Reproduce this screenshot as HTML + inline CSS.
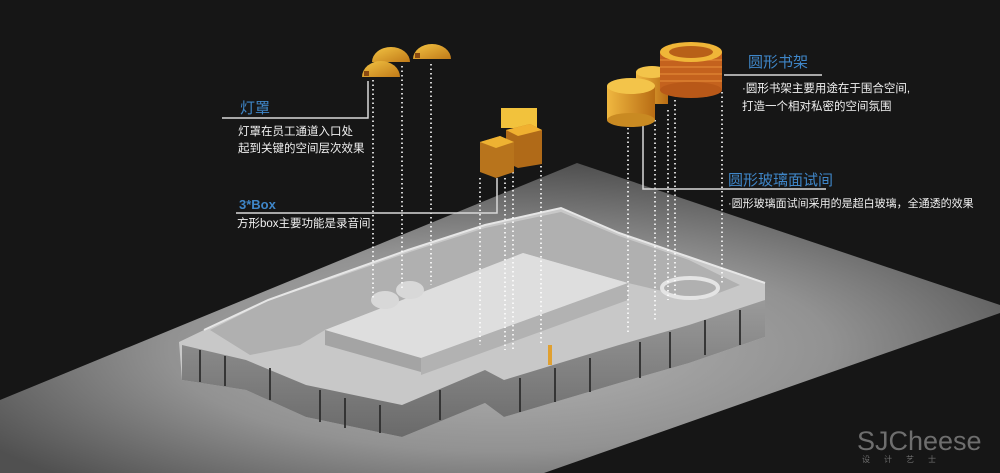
<!DOCTYPE html>
<html><head><meta charset="utf-8">
<style>
html,body{margin:0;padding:0;background:#161616;}
svg{display:block;}
text{font-family:"Liberation Sans","Noto Sans CJK SC",sans-serif;}
</style></head>
<body>
<svg width="1000" height="473" viewBox="0 0 1000 473" xmlns="http://www.w3.org/2000/svg">
<defs>
<radialGradient id="fl" cx="0.5" cy="0.6" r="0.6">
<stop offset="0" stop-color="#b4b4b4"/><stop offset="0.55" stop-color="#929292"/><stop offset="1" stop-color="#505050"/>
</radialGradient>
<linearGradient id="og" x1="0" y1="0" x2="1" y2="1">
<stop offset="0" stop-color="#f3c443"/><stop offset="1" stop-color="#c07a18"/>
</linearGradient>
<linearGradient id="og2" x1="0" y1="0" x2="1" y2="0">
<stop offset="0" stop-color="#f0b840"/><stop offset="1" stop-color="#b86c14"/>
</linearGradient>
<linearGradient id="wall" x1="0" y1="0" x2="0" y2="1">
<stop offset="0" stop-color="#9a9a9a"/><stop offset="1" stop-color="#6a6a6a"/>
</linearGradient>
</defs>
<rect width="1000" height="473" fill="#161616"/>
<!-- floor -->
<polygon points="0,400 577,163 1000,305 1000,313 544,473 0,473" fill="url(#fl)"/>
<!-- building -->
<polygon points="179,342 182,380 246,390 306,417 402,437 485,403 504,417 619,383 689,363 765,337 765,283 689,257 619,233 561,208 485,225 408,250 332,277 268,300 204,330" fill="#c8c8c8"/>
<!-- front walls -->
<polygon points="182,345 182,380 246,390 306,417 402,437 485,403 504,417 619,383 689,363 765,337 765,300 689,325 619,345 504,380 485,370 402,405 306,385 246,360" fill="url(#wall)"/>
<g stroke="#2e2e2e" stroke-width="1.8">
<line x1="200" y1="350" x2="200" y2="382"/><line x1="225" y1="356" x2="225" y2="386"/>
<line x1="270" y1="368" x2="270" y2="400"/><line x1="320" y1="390" x2="320" y2="422"/>
<line x1="345" y1="398" x2="345" y2="428"/><line x1="380" y1="405" x2="380" y2="433"/>
<line x1="440" y1="390" x2="440" y2="420"/><line x1="520" y1="378" x2="520" y2="412"/>
<line x1="555" y1="368" x2="555" y2="402"/><line x1="590" y1="358" x2="590" y2="392"/>
<line x1="640" y1="342" x2="640" y2="378"/><line x1="670" y1="332" x2="670" y2="368"/>
<line x1="705" y1="320" x2="705" y2="355"/><line x1="740" y1="310" x2="740" y2="345"/>
</g>
<!-- inner rooms -->
<polygon points="210,330 270,300 335,278 410,252 485,228 561,212 619,236 689,260 740,285 700,300 628,283 523,253 325,330 300,345 250,355" fill="#b0b0b0"/>
<g stroke="#e6e6e6" stroke-width="2" fill="none">
<polyline points="204,330 268,300 332,277 408,250 485,225 561,208 619,233 689,257 765,283"/>
</g>
<!-- central roof -->
<polygon points="325,330 523,253 628,283 421,358" fill="#dedede"/>
<polygon points="325,330 421,358 421,372 325,345" fill="#a4a4a4"/>
<polygon points="421,358 628,283 628,300 421,375" fill="#b2b2b2"/>
<ellipse cx="690" cy="288" rx="28" ry="10" fill="none" stroke="#e4e4e4" stroke-width="4"/>
<ellipse cx="385" cy="300" rx="14" ry="9" fill="#d8d8d8"/>
<ellipse cx="410" cy="290" rx="14" ry="9" fill="#d8d8d8"/>
<rect x="548" y="345" width="4" height="20" fill="#e0a030"/>
<!-- dotted lines -->
<g stroke="#ffffff" stroke-width="1.6" stroke-dasharray="1.5 3">
<line x1="373" y1="80" x2="373" y2="300"/><line x1="402" y1="66" x2="402" y2="290"/><line x1="431" y1="64" x2="431" y2="285"/>
<line x1="480" y1="178" x2="480" y2="345"/><line x1="505" y1="178" x2="505" y2="350"/><line x1="513" y1="172" x2="513" y2="352"/><line x1="541" y1="166" x2="541" y2="345"/>
<line x1="628" y1="128" x2="628" y2="335"/><line x1="655" y1="120" x2="655" y2="320"/><line x1="668" y1="110" x2="668" y2="300"/><line x1="675" y1="100" x2="675" y2="295"/><line x1="722" y1="92" x2="722" y2="285"/>
</g>
<!-- label lines -->
<g stroke="#d8d8d8" stroke-width="1.5" fill="none">
<polyline points="222,118 368,118 368,81"/>
<polyline points="236,213 497,213 497,178"/>
<line x1="724" y1="75" x2="822" y2="75"/>
<polyline points="643,122 643,189 826,189"/>
</g>
<!-- domes -->
<path d="M372,62 A19,15 0 0 1 410,62 Z" fill="url(#og)"/>
<path d="M413,59 A19,15 0 0 1 451,59 Z" fill="url(#og)"/>
<path d="M362,77 A19,16 0 0 1 400,77 Z" fill="url(#og)"/>
<rect x="364" y="71" width="5" height="5" fill="#8a4a10"/>
<rect x="415" y="53" width="5" height="5" fill="#8a4a10"/>
<!-- boxes -->
<rect x="501" y="108" width="36" height="20" fill="#f2c23c"/>
<polygon points="506,130 530,124 542,130 542,164 518,168 506,162" fill="#b06a18"/>
<polygon points="506,130 530,124 542,130 518,136" fill="#f0b030"/>
<polygon points="480,142 500,136 514,142 514,172 496,178 480,172" fill="#b8741c"/>
<polygon points="480,142 500,136 514,142 496,148" fill="#eeb232"/>
<!-- cylinders -->
<rect x="636" y="72" width="32" height="32" fill="url(#og2)"/>
<ellipse cx="652" cy="72" rx="16" ry="6" fill="#f3c44a"/>
<rect x="607" y="86" width="48" height="34" fill="url(#og2)"/>
<ellipse cx="631" cy="120" rx="24" ry="7" fill="#c98a22"/>
<ellipse cx="631" cy="86" rx="24" ry="8" fill="#f3c44a"/>
<rect x="660" y="52" width="62" height="38" fill="#c4621e"/>
<g stroke="#e8903a" stroke-width="1"><line x1="660" y1="60" x2="722" y2="60"/><line x1="660" y1="67" x2="722" y2="67"/><line x1="660" y1="74" x2="722" y2="74"/><line x1="660" y1="81" x2="722" y2="81"/></g>
<ellipse cx="691" cy="90" rx="31" ry="8" fill="#b85818"/>
<ellipse cx="691" cy="52" rx="31" ry="10" fill="#f0b638"/>
<ellipse cx="691" cy="52" rx="22" ry="6" fill="#b86018"/>
<!-- texts -->
<text x="240" y="113" font-size="15" fill="#3f86c8">灯罩</text>
<text x="238" y="135" font-size="11.5" fill="#f0f0f0">灯罩在员工通道入口处</text>
<text x="238" y="152" font-size="11.5" fill="#f0f0f0">起到关键的空间层次效果</text>
<text x="239" y="209" font-size="13" font-weight="bold" fill="#3f86c8">3*Box</text>
<text x="237" y="227" font-size="11.5" fill="#f0f0f0">方形box主要功能是录音间</text>
<text x="748" y="67" font-size="15" fill="#3f86c8">圆形书架</text>
<text x="742" y="92" font-size="11.5" fill="#f0f0f0">·圆形书架主要用途在于围合空间,</text>
<text x="742" y="110" font-size="11.5" fill="#f0f0f0">打造一个相对私密的空间氛围</text>
<text x="728" y="185" font-size="15" fill="#3f86c8">圆形玻璃面试间</text>
<text x="728" y="207" font-size="11" fill="#f0f0f0">·圆形玻璃面试间采用的是超白玻璃，全通透的效果</text>
<text x="857" y="450" font-size="27" fill="#6e6e6e">SJCheese</text>
<text x="862" y="462" font-size="8" fill="#6e6e6e" letter-spacing="14">设计艺士</text>
</svg>
</body></html>
